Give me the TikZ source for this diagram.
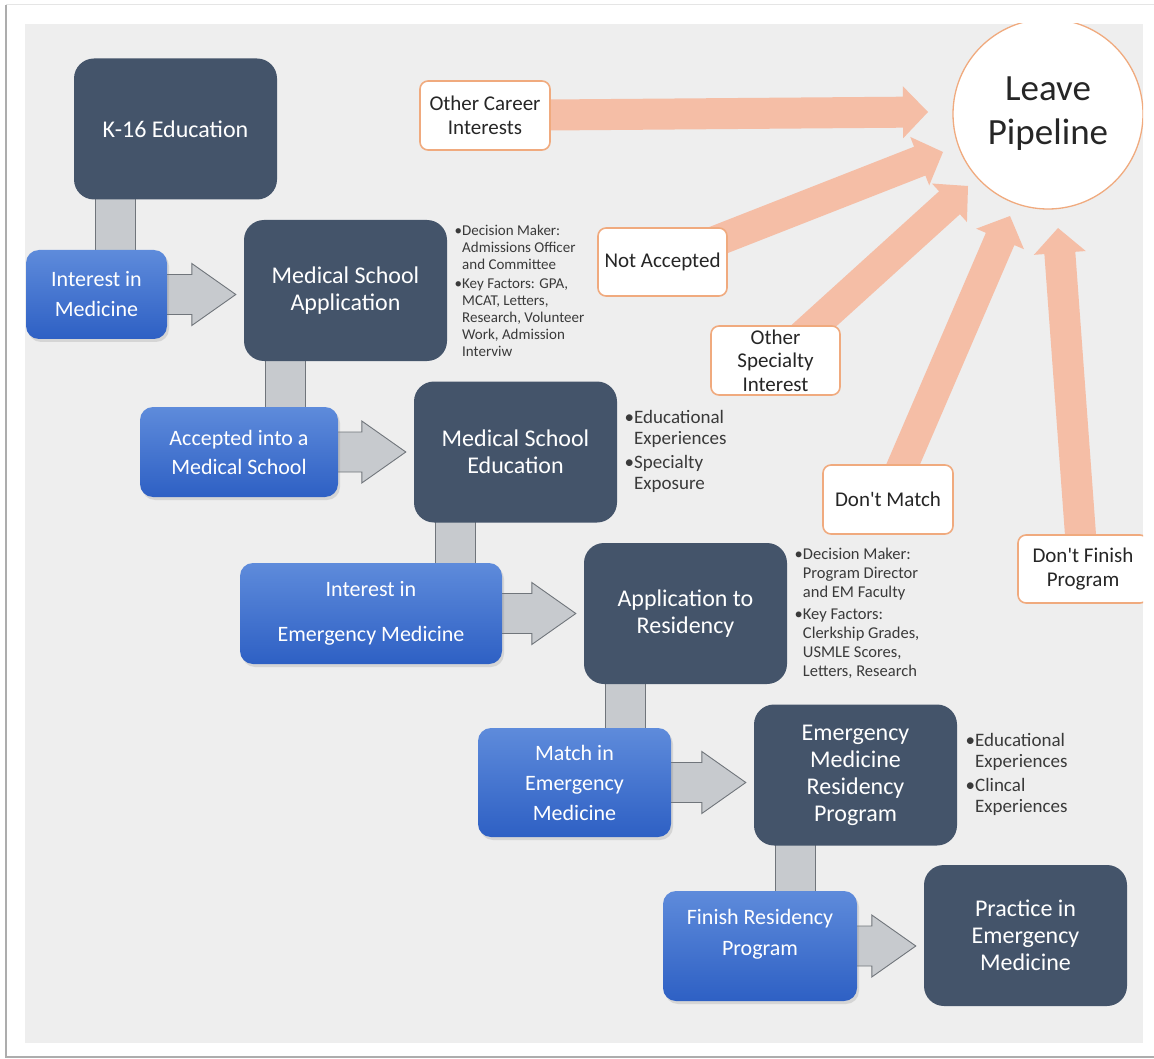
\documentclass[tikz,border=0pt]{standalone}
\usepackage{fontspec}
\setmainfont{Carlito}
\usetikzlibrary{calc,shadows}

\definecolor{panel}{RGB}{238,238,238}
\definecolor{slate}{RGB}{68,84,106}
\definecolor{blueTop}{RGB}{94,139,219}
\definecolor{blueBot}{RGB}{46,96,196}
\definecolor{linkfill}{RGB}{199,202,206}
\definecolor{linkline}{RGB}{112,117,123}
\definecolor{salmon}{RGB}{245,190,166}
\definecolor{exitline}{RGB}{240,170,126}
\definecolor{ink}{RGB}{38,38,38}
\definecolor{notegray}{RGB}{58,58,58}

\pgfdeclarelayer{back}
\pgfdeclarelayer{background}
\pgfsetlayers{back,background,main}

% bullet markers for the side notes
\newcommand\bulitem{\makebox[0.5em][l]{\textbullet}}
\newcommand\bulindent{\hspace*{0.5em}}

% block arrow: style, start, tip, shaft half width, head half width, head length
\newcommand\blockarrow[6]{%
  \coordinate (ba-s) at #2;
  \coordinate (ba-t) at #3;
  \coordinate (ba-b) at ($(ba-t)!#6!(ba-s)$);
  \path[#1] ($(ba-s)!#4!90:(ba-t)$) -- ($(ba-b)!#4!-90:(ba-s)$)
    -- ($(ba-b)!#5!-90:(ba-s)$) -- (ba-t) -- ($(ba-b)!#5!90:(ba-s)$)
    -- ($(ba-b)!#4!90:(ba-s)$) -- ($(ba-s)!#4!-90:(ba-t)$) -- cycle;
}

\begin{document}
\begin{tikzpicture}[x=1pt,y=-1pt,
  darkbox/.style={rectangle, rounded corners=20pt, fill=slate, text=white,
    minimum width=203pt, minimum height=141pt, inner sep=0pt, align=center,
    font=\fontsize{24}{27}\selectfont},
  bluebox/.style={rectangle, rounded corners=13pt, top color=blueTop,
    bottom color=blueBot, text=white, inner sep=0pt, align=center,
    drop shadow={opacity=0.22, shadow xshift=2pt, shadow yshift=-3pt}},
  bluetext/.style={text=white, align=center, inner sep=0pt},
  exitbox/.style={rectangle, rounded corners=8pt, fill=white, draw=exitline,
    line width=1.6pt, minimum width=130pt, minimum height=69pt, inner sep=0pt,
    align=center, text=ink, font=\fontsize{21}{23.5}\selectfont},
  exitcircle/.style={circle, fill=white, draw=exitline, line width=1.3pt,
    minimum size=190pt, inner sep=0pt, align=center, text=ink,
    font=\fontsize{37}{44}\selectfont},
  notes/.style={align=left, inner sep=0pt, text=notegray, anchor=west},
  linkbar/.style={fill=linkfill, draw=linkline, line width=0.8pt},
  flowarrow/.style={fill=linkfill, draw=linkline, line width=0.9pt, line join=miter},
  leavearrow/.style={fill=salmon},
]
\useasboundingbox (0,0) rectangle (1154,1059);

% frame and grey panel
\begin{pgfonlayer}{back}
  \fill[white] (0,0) rectangle (1154,1059);
  \draw[black!10, line width=1pt] (6,1057) -- (6,5) -- (1154,5);
  \draw[black!32, line width=1.5pt] (6,5) -- (6,1057) -- (1154,1057);
  \fill[panel] (25,24) rectangle (1143,1043);
\end{pgfonlayer}

\begin{scope}
\clip (25,24) rectangle (1143,1043);

% main pathway
\node[darkbox] (k16)  at (175.5,129)   {K-16 Education};
\node[darkbox] (msa)  at (345.5,290.5) {Medical School\\Application};
\node[darkbox] (mse)  at (515.5,452)   {Medical School\\Education};
\node[darkbox] (atr)  at (685.5,613.5) {Application to\\Residency};
\node[darkbox] (emrp) at (855.5,775)   {Emergency\\Medicine\\Residency\\Program};
\node[darkbox] (pem)  at (1025.5,935.5){Practice in\\Emergency\\Medicine};

% transition steps
\node[bluebox, minimum width=141pt, minimum height=89pt,
  font=\fontsize{22}{30}\selectfont] (im) at (96.5,294.5) {Interest in\\Medicine};
\node[bluebox, minimum width=198pt, minimum height=90pt,
  font=\fontsize{22}{29}\selectfont] (acc) at (239,452) {Accepted into a\\Medical School};
\node[bluebox, minimum width=262pt, minimum height=101pt,
  font=\fontsize{22}{45}\selectfont] (iem) at (371,613.5) {Interest in\\Emergency Medicine};
\node[bluebox, minimum width=193pt, minimum height=109pt,
  font=\fontsize{22}{30}\selectfont] (mem) at (574.5,782.5) {Match in\\Emergency\\Medicine};
\node[bluebox, minimum width=194pt, minimum height=110pt] (frp) at (760,946) {};
\node[bluetext, font=\fontsize{22}{31}\selectfont] (frp-text) at (760,934)
  {Finish Residency\\Program};

% side notes
\node[notes, font=\fontsize{15}{17}\selectfont] (msa-notes) at (454.5,290.5)
  {\bulitem Decision Maker:\\\bulindent Admissions Officer\\\bulindent and Committee\\[2pt]
   \bulitem Key Factors: GPA,\\\bulindent MCAT, Letters,\\\bulindent Research, Volunteer\\
   \bulindent Work, Admission\\\bulindent Interviw};
\node[notes, font=\fontsize{19}{21.5}\selectfont] (mse-notes) at (624.5,451.5)
  {\bulitem Educational\\\bulindent Experiences\\[2pt]\bulitem Specialty\\\bulindent Exposure};
\node[notes, font=\fontsize{16.5}{19}\selectfont] (atr-notes) at (794.5,613)
  {\bulitem Decision Maker:\\\bulindent Program Director\\\bulindent and EM Faculty\\[3pt]
   \bulitem Key Factors:\\\bulindent Clerkship Grades,\\\bulindent USMLE Scores,\\
   \bulindent Letters, Research};
\node[notes, font=\fontsize{19}{21}\selectfont] (emrp-notes) at (965.5,774)
  {\bulitem Educational\\\bulindent Experiences\\[3pt]\bulitem Clincal\\\bulindent Experiences};

% ways out of the pipeline
\node[exitcircle] (lp) at (1048,114) {Leave\\Pipeline};
\node[exitbox] (oci) at (485,115.5) {Other Career\\Interests};
\node[exitbox, minimum width=129pt, minimum height=68pt] (na) at (662.5,262) {Not Accepted};
\node[exitbox, minimum width=129pt] (osi) at (775.5,360.5) {Other\\Specialty\\Interest};
\node[exitbox] (dm) at (888,499.5) {Don\textquotesingle t Match};
\node[exitbox, minimum height=68pt] (dfp) at (1083,569) {Don\textquotesingle t Finish\\Program};

\coordinate (tip-oci) at (928,112);
\coordinate (tip-na)  at (943,152);
\coordinate (tip-osi) at (968,186);
\coordinate (tip-dm)  at (1010,216);
\coordinate (tip-dfp) at (1058,228);
\end{scope}

\begin{pgfonlayer}{background}
  % connecting bars between stages
  \foreach \up/\down in {k16/im, msa/acc, mse/iem, atr/mem, emrp/frp}{
    \draw[linkbar] ($(\up.south west)+(22,-3)$) rectangle ($(\up.south west |- \down.north)+(62,3)$);
  }
  % step arrows
  \foreach \from/\to in {im/msa, acc/mse, iem/atr, mem/emrp, frp/pem}{
    \blockarrow{flowarrow}{($(\from.east)+(-4,0)$)}{($(\from.east -| \to.west)+(-8,0)$)}{20pt}{31pt}{44pt}
  }
  % arrows leaving the pipeline
  \foreach \src in {oci, na, osi, dm, dfp}{
    \blockarrow{leavearrow}{(\src.center)}{(tip-\src)}{15.5pt}{26pt}{25pt}
  }
\end{pgfonlayer}
\end{tikzpicture}
\end{document}
